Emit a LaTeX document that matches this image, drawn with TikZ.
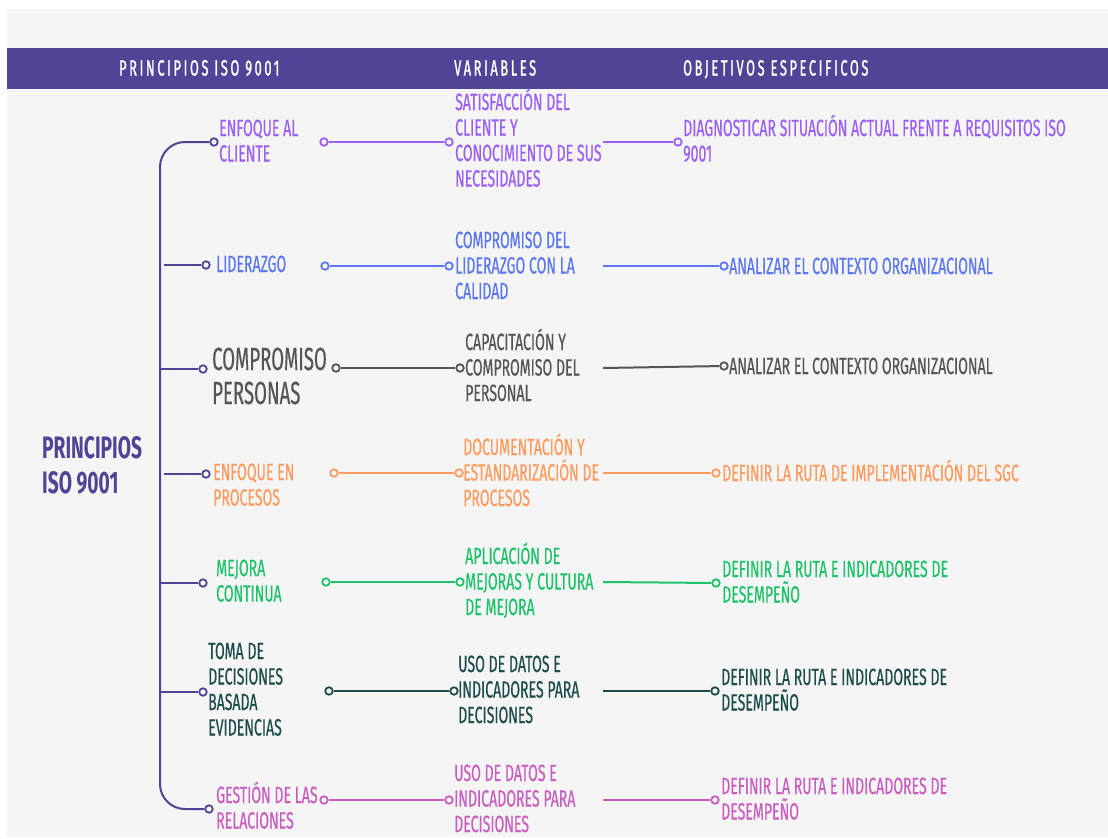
\documentclass[tikz,border=0pt]{standalone}
\usepackage{fontspec}
\newfontfamily\cf[FakeStretch=0.6,FakeBold=0.4]{Fira Sans}
\newfontfamily\cfbig[FakeStretch=0.58,FakeBold=0.4]{Fira Sans}
\newfontfamily\cfroot[FakeStretch=0.62]{Fira Sans}
\newfontfamily\hf[FakeStretch=0.58,FakeBold=1.2,LetterSpace=12]{Fira Sans}
\definecolor{bg}{HTML}{F5F5F5}
\definecolor{hdr}{HTML}{4F4496}
\definecolor{cA}{HTML}{9C5FF5}
\definecolor{cB}{HTML}{5B77F2}
\definecolor{cC}{HTML}{555555}
\definecolor{cD}{HTML}{FF9B5E}
\definecolor{cE}{HTML}{1DC26B}
\definecolor{cF}{HTML}{1E4B4B}
\definecolor{cG}{HTML}{C95DC0}
\tikzset{
  txt/.style={anchor=base west, inner sep=0, align=left, font=\cf\fontsize{23.5}{25.5}\selectfont},
  bigtxt/.style={anchor=base west, inner sep=0, align=left, font=\cfbig\fontsize{32}{34}\selectfont},
  hdrtxt/.style={anchor=base west, inner sep=0, text=white, font=\hf\fontsize{22}{24}\selectfont},
  dot/.style={circle, draw, fill=bg, inner sep=0, minimum size=7.5pt, line width=1.8pt},
  ln/.style={line width=2pt},
}
\begin{document}
\begin{tikzpicture}[x=1pt,y=-1pt]
\useasboundingbox (0,0) rectangle (1108,838);
\fill[white] (0,0) rectangle (1108,838);
\fill[bg] (7,9) rectangle (1108,837);
\fill[hdr] (7,48) rectangle (1108,89);
% header
\node[hdrtxt] (h1) at (119,75.5) {PRINCIPIOS ISO 9001};
\node[hdrtxt] (h2) at (454,75.5) {VARIABLES};
\node[hdrtxt] (h3) at (683,75.5) {OBJETIVOS ESPECIFICOS};
% root
\node[anchor=base west, inner sep=0, align=left, text=hdr, font=\cfroot\bfseries\fontsize{31}{35}\selectfont] (root) at (42,493) {PRINCIPIOS\\ISO 9001};
% branch circles
\node[dot, draw=hdr] (b1) at (214,142) {};
\node[dot, draw=hdr] (b2) at (206,265) {};
\node[dot, draw=hdr] (b3) at (203,369) {};
\node[dot, draw=hdr] (b4) at (206,474) {};
\node[dot, draw=hdr] (b5) at (203,583) {};
\node[dot, draw=hdr] (b6) at (203,692) {};
\node[dot, draw=hdr] (b7) at (209,809) {};
\coordinate (s2) at (164,265);
\coordinate (s3) at (160,369);
\coordinate (s4) at (164,474);
\coordinate (s5) at (160,583);
\coordinate (s6) at (160,692);
\coordinate (tm) at (160,500);
\draw[ln, hdr, rounded corners=25pt] (b1.west) -| (tm) |- (b7.west);
\foreach \i in {2,...,6} \draw[ln, hdr] (s\i) -- (b\i.west);
% principles
\node[txt, text=cA] (p1) at (219,161.5) {ENFOQUE AL\\CLIENTE};
\node[txt, text=cB] (p2) at (216,272) {LIDERAZGO};
\node[bigtxt, text=cC] (p3) at (212,404) {COMPROMISO\\PERSONAS};
\node[txt, text=cD] (p4) at (213,505.5) {ENFOQUE EN\\PROCESOS};
\node[txt, text=cE] (p5) at (216,601.5) {MEJORA\\CONTINUA};
\node[txt, text=cF] (p6) at (208,735.5) {TOMA DE\\DECISIONES\\BASADA\\EVIDENCIAS};
\node[txt, text=cG] (p7) at (216,828.5) {GESTIÓN DE LAS\\RELACIONES};
% variables
\node[txt, text=cA] (v1) at (455,186.5) {SATISFACCIÓN DEL\\CLIENTE Y\\CONOCIMIENTO DE SUS\\NECESIDADES};
\node[txt, text=cB] (v2) at (455,299) {COMPROMISO DEL\\LIDERAZGO CON LA\\CALIDAD};
\node[txt, text=cC] (v3) at (465,401) {CAPACITACIÓN Y\\COMPROMISO DEL\\PERSONAL};
\node[txt, text=cD] (v4) at (463,506) {DOCUMENTACIÓN Y\\ESTANDARIZACIÓN DE\\PROCESOS};
\node[txt, text=cE] (v5) at (465,615) {APLICACIÓN DE\\MEJORAS Y CULTURA\\DE MEJORA};
\node[txt, text=cF] (v6) at (458,723) {USO DE DATOS E\\INDICADORES PARA\\DECISIONES};
\node[txt, text=cG] (v7) at (454,832) {USO DE DATOS E\\INDICADORES PARA\\DECISIONES};
% objectives
\node[txt, text=cA] (o1) at (683,161.5) {DIAGNOSTICAR SITUACIÓN ACTUAL FRENTE A REQUISITOS ISO\\9001};
\node[txt, text=cB] (o2) at (729,274) {ANALIZAR EL CONTEXTO ORGANIZACIONAL};
\node[txt, text=cC] (o3) at (729,374) {ANALIZAR EL CONTEXTO ORGANIZACIONAL};
\node[txt, text=cD] (o4) at (722,481) {DEFINIR LA RUTA DE IMPLEMENTACIÓN DEL SGC};
\node[txt, text=cE] (o5) at (722,602.5) {DEFINIR LA RUTA E INDICADORES DE\\DESEMPEÑO};
\node[txt, text=cF] (o6) at (721,710.5) {DEFINIR LA RUTA E INDICADORES DE\\DESEMPEÑO};
\node[txt, text=cG] (o7) at (721,819.5) {DEFINIR LA RUTA E INDICADORES DE\\DESEMPEÑO};
% connector circles
\node[dot, draw=cA] (c1) at (324,142) {};
\node[dot, draw=cB] (c2) at (325,266) {};
\node[dot, draw=cC] (c3) at (336,368) {};
\node[dot, draw=cD] (c4) at (334,473) {};
\node[dot, draw=cE] (c5) at (326,582) {};
\node[dot, draw=cF] (c6) at (329,691) {};
\node[dot, draw=cG] (c7) at (324,800) {};
\node[dot, draw=cA] (d1) at (449,142) {};
\node[dot, draw=cB] (d2) at (449,266) {};
\node[dot, draw=cC] (d3) at (460,368) {};
\node[dot, draw=cD] (d4) at (459,473) {};
\node[dot, draw=cE] (d5) at (460,582) {};
\node[dot, draw=cF] (d6) at (454,691) {};
\node[dot, draw=cG] (d7) at (449,800) {};
\node[dot, draw=cA] (f1) at (678,142) {};
\node[dot, draw=cB] (f2) at (724,266) {};
\node[dot, draw=cC] (f3) at (724,366) {};
\node[dot, draw=cD] (f4) at (716,473) {};
\node[dot, draw=cE] (f5) at (716,583) {};
\node[dot, draw=cF] (f6) at (715,691) {};
\node[dot, draw=cG] (f7) at (715,800) {};
\coordinate (e1) at (603,142);
\coordinate (e2) at (603,266);
\coordinate (e3) at (603,368);
\coordinate (e4) at (603,473);
\coordinate (e5) at (603,582);
\coordinate (e6) at (603,691);
\coordinate (e7) at (603,800);
\foreach \i/\c in {1/cA,2/cB,3/cC,4/cD,5/cE,6/cF,7/cG}{
  \draw[ln, \c] (c\i) -- (d\i);
  \draw[ln, \c] (e\i) -- (f\i);
}
\end{tikzpicture}
\end{document}
